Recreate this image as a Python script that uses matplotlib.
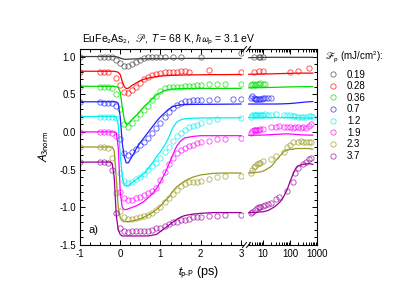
import numpy as np
import matplotlib
matplotlib.use('Agg')
import matplotlib.pyplot as plt
from matplotlib.lines import Line2D
from matplotlib.ticker import MultipleLocator, FixedLocator, FixedFormatter, LogLocator, NullFormatter, FormatStrFormatter

plt.rcParams['font.family'] = ['Liberation Sans', 'DejaVu Sans']
plt.rcParams['mathtext.fontset'] = 'stixsans'
plt.rcParams['axes.unicode_minus'] = False
plt.rcParams['font.size'] = 7

nan = np.nan

fluence = ['0.19', '0.28', '0.36', '0.7', '1.2', '1.9', '2.3', '3.7']
colors = ['#404040', '#ff0000', '#00dd00', '#2020ff', '#00f0f0', '#ff00ff', '#999920', '#990099']

# delays of measured points, linear part (ps)
t_left = [-1.0, -0.5, -0.4, -0.3, -0.2, -0.1, 0.0, 0.1, 0.2, 0.3, 0.4, 0.5, 0.6, 0.7, 0.8, 0.9,
          1.0, 1.1, 1.2, 1.3, 1.4, 1.5, 1.6, 1.7, 1.8, 1.9, 2.0, 2.2, 2.4, 2.6, 2.8, 3.0]
# delays of measured points, log part (ps)
t_right = [3.5, 4, 4.5, 5, 5.5, 6, 7, 8, 9, 10, 12, 15, 20, 30, 40, 60, 80, 100, 130, 160,
           200, 250, 300, 400, 500, 600, 700]
# delays of the fit curves
tf_left = [-1.0, -0.3, -0.25, -0.2, -0.15, -0.1, -0.05, 0.0, 0.05, 0.1, 0.15, 0.2, 0.3, 0.4, 0.5,
           0.6, 0.7, 0.8, 0.9, 1.0, 1.1, 1.2, 1.3, 1.4, 1.5, 1.6, 1.8, 2.0, 2.3, 2.6, 3.0]
tf_right = [3, 5, 8, 10, 13, 16, 20, 25, 30, 40, 50, 60, 80, 100, 130, 160, 200, 300, 500, 700]

# measured, linear part
d019 = [1.0, 1.0, 1.0, 1.0, 0.99, 0.95, 0.91, 0.88, 0.87, 0.90, 0.93, 0.96, 0.98, 0.99, 1.0, 1.0,
        1.0, 1.0, nan, 1.0, nan, 1.0, nan, nan, nan, nan, 0.99, nan, nan, nan, nan, 1.05]
d028 = [0.8, 0.8, 0.8, 0.8, nan, 0.72, 0.62, 0.53, 0.52, 0.55, 0.6, 0.65, 0.7, 0.73, 0.76, 0.77,
        0.78, 0.79, 0.8, 0.8, 0.8, 0.81, 0.81, 0.8, nan, nan, nan, 0.82, nan, nan, nan, 0.8]
d036 = [0.6, 0.6, 0.6, 0.6, 0.58, 0.5, 0.3, 0.1, 0.06, 0.12, 0.19, 0.24, 0.29, 0.34, 0.42, 0.48,
        0.54, 0.58, 0.59, 0.6, 0.6, 0.6, 0.61, 0.61, 0.61, 0.62, 0.62, 0.63, 0.64, 0.64, nan, 0.64]
d07 = [0.4, 0.4, 0.39, 0.38, 0.38, 0.34, -0.1, -0.28, -0.3, -0.27, -0.22, -0.18, -0.14, -0.08, -0.02, 0.05,
       0.12, 0.2, 0.27, 0.32, 0.36, 0.39, 0.41, 0.41, 0.42, 0.42, 0.42, 0.43, 0.44, nan, 0.44, 0.44]
d12 = [0.2, 0.2, 0.2, 0.2, 0.2, 0.18, -0.55, -0.65, -0.68, -0.67, -0.63, -0.6, -0.56, -0.5, -0.45, -0.41,
       -0.34, -0.27, -0.2, -0.12, -0.06, -0.02, 0.03, 0.06, 0.075, 0.09, 0.12, 0.15, 0.17, nan, nan, 0.18]
d19 = [0.0, 0.0, 0.0, 0.0, -0.01, -0.05, -0.8, -0.88, -0.9, -0.9, -0.88, -0.86, -0.84, -0.81, -0.78, -0.74,
       -0.64, -0.53, -0.43, -0.34, -0.28, -0.24, -0.21, -0.19, -0.17, -0.15, -0.14, -0.12, -0.1, -0.1, nan, -0.08]
d23 = [-0.2, -0.2, -0.2, -0.21, -0.35, -0.81, -1.05, -1.13, -1.15, -1.15, -1.14, -1.13, -1.12, -1.1, -1.08, -1.04,
       -1.0, -0.93, -0.87, -0.82, -0.77, -0.72, -0.69, -0.67, -0.66, -0.66, -0.65, -0.63, -0.6, -0.59, nan, -0.59]
d37 = [-0.4, -0.4, -0.4, -0.41, -0.5, -1.08, -1.27, -1.32, -1.33, -1.32, -1.32, -1.32, -1.31, -1.31, -1.3, -1.28,
       -1.27, -1.25, -1.22, -1.2, -1.19, -1.17, -1.17, -1.15, -1.13, -1.13, -1.13, -1.12, -1.11, -1.1, nan, -1.1]

# measured, log part
r019 = [nan, nan, 1.0, nan, nan, nan, 1.0, 1.0, nan, 1.0, nan, nan, nan, nan, nan, nan, nan, nan, nan, nan,
        nan, nan, nan, nan, nan, nan, nan]
r028 = [nan, nan, 0.8, nan, nan, nan, 0.81, nan, nan, 0.81, nan, nan, nan, nan, nan, nan, nan, 0.8, nan, nan,
        0.81, nan, nan, nan, 0.85, nan, nan]
r036 = [0.62, 0.63, 0.63, 0.62, nan, 0.64, 0.64, 0.65, nan, 0.63, 0.63, nan, nan, nan, nan, nan, nan, nan, nan, nan,
        nan, nan, nan, nan, nan, nan, nan]
r07 = [0.45, 0.47, 0.45, 0.44, 0.44, 0.44, 0.44, 0.44, 0.44, 0.45, 0.45, 0.45, 0.45, nan, nan, nan, nan, nan, nan, nan,
       nan, nan, nan, nan, nan, nan, nan]
r12 = [0.2, 0.22, 0.23, 0.23, 0.23, 0.23, 0.23, 0.23, 0.23, 0.23, 0.24, 0.23, 0.23, 0.24, nan, 0.22, 0.23, 0.22, 0.21, 0.21,
       0.2, 0.2, 0.2, 0.2, 0.21, 0.21, 0.2]
r19 = [-0.01, 0.01, 0.02, 0.03, 0.03, 0.03, 0.03, 0.04, nan, 0.04, nan, nan, 0.07, 0.07, 0.075, 0.06, 0.06, 0.06, 0.05, 0.06,
       0.06, 0.05, 0.06, 0.05, 0.08, 0.1, nan]
r23 = [-0.545, -0.5, -0.47, -0.45, nan, -0.42, -0.41, -0.41, nan, -0.39, nan, nan, -0.36, -0.32, nan, -0.26, -0.2, -0.17, -0.14, nan,
       -0.13, -0.12, -0.13, -0.13, -0.13, -0.14, nan]
r37 = [-1.07, -1.06, nan, -1.04, nan, -1.01, -1.0, -0.99, nan, -0.98, -0.97, -0.96, -0.94, -0.89, -0.86, nan, -0.79, nan, -0.66, -0.54,
       -0.48, nan, -0.43, -0.4, -0.36, -0.34, nan]

# fits, linear part
f019 = [1.0, 1.0, 1.0, 1.0, 1.0, 0.998, 0.99, 0.98, 0.97, 0.965, 0.963, 0.965, 0.968, 0.97, 0.97, 0.971,
        0.972, 0.972, 0.973, 0.973, 0.973, 0.974, 0.974, 0.974, 0.974, 0.975, 0.975, 0.975, 0.975, 0.975, 0.975]
f028 = [0.805, 0.805, 0.805, 0.805, 0.804, 0.8, 0.79, 0.76, 0.67, 0.6, 0.575, 0.58, 0.62, 0.65, 0.68, 0.7,
        0.715, 0.725, 0.735, 0.74, 0.745, 0.748, 0.75, 0.752, 0.754, 0.755, 0.757, 0.758, 0.76, 0.76, 0.762]
f036 = [0.605, 0.605, 0.605, 0.605, 0.604, 0.6, 0.59, 0.53, 0.33, 0.16, 0.1, 0.11, 0.17, 0.22, 0.28, 0.34,
        0.39, 0.44, 0.49, 0.52, 0.55, 0.56, 0.57, 0.572, 0.575, 0.575, 0.576, 0.577, 0.578, 0.578, 0.578]
f07 = [0.4, 0.4, 0.4, 0.4, 0.4, 0.398, 0.38, 0.2, -0.15, -0.33, -0.41, -0.41, -0.32, -0.22, -0.14, -0.07,
       0.0, 0.07, 0.14, 0.2, 0.25, 0.3, 0.335, 0.35, 0.36, 0.362, 0.365, 0.366, 0.367, 0.368, 0.37]
f12 = [0.205, 0.205, 0.205, 0.205, 0.204, 0.2, 0.1, -0.3, -0.6, -0.71, -0.72, -0.71, -0.67, -0.63, -0.59, -0.55,
       -0.48, -0.41, -0.33, -0.26, -0.18, -0.08, 0.05, 0.13, 0.16, 0.175, 0.182, 0.185, 0.186, 0.187, 0.188]
f19 = [0.0, 0.0, 0.0, 0.0, -0.002, -0.01, -0.2, -0.8, -1.0, -1.03, -1.03, -1.02, -1.0, -0.98, -0.95, -0.92,
       -0.87, -0.82, -0.75, -0.66, -0.56, -0.44, -0.31, -0.19, -0.12, -0.08, -0.06, -0.05, -0.05, -0.05, -0.05]
f23 = [-0.2, -0.2, -0.2, -0.2, -0.25, -0.6, -1.0, -1.14, -1.18, -1.19, -1.19, -1.19, -1.18, -1.17, -1.15, -1.13,
       -1.1, -1.07, -1.03, -0.98, -0.92, -0.87, -0.79, -0.73, -0.69, -0.65, -0.6, -0.57, -0.55, -0.545, -0.545]
f37 = [-0.4, -0.4, -0.4, -0.42, -0.6, -1.1, -1.3, -1.36, -1.38, -1.38, -1.38, -1.38, -1.38, -1.38, -1.38, -1.38,
       -1.38, -1.37, -1.36, -1.32, -1.28, -1.24, -1.2, -1.16, -1.13, -1.11, -1.09, -1.08, -1.07, -1.07, -1.07]

# fits, log part
g019 = [0.985, 0.987, 0.988, 0.988, 0.989, 0.989, 0.99, 0.99, 0.99, 0.99, 0.99, 0.99, 0.99, 0.99, 0.99, 0.99, 0.99, 0.99, 0.99, 0.99]
g028 = [0.765, 0.766, 0.767, 0.768, 0.769, 0.77, 0.77, 0.771, 0.772, 0.773, 0.774, 0.775, 0.776, 0.777, 0.778, 0.779, 0.78, 0.78, 0.78, 0.78]
g036 = [0.585, 0.586, 0.587, 0.588, 0.589, 0.59, 0.59, 0.591, 0.592, 0.593, 0.594, 0.595, 0.596, 0.597, 0.598, 0.598, 0.599, 0.6, 0.6, 0.6]
g07 = [0.37, 0.37, 0.37, 0.37, 0.37, 0.37, 0.37, 0.37, 0.37, 0.371, 0.372, 0.373, 0.375, 0.377, 0.38, 0.383, 0.387, 0.393, 0.4, 0.403]
g12 = [0.19, 0.19, 0.19, 0.19, 0.19, 0.19, 0.19, 0.19, 0.19, 0.19, 0.19, 0.19, 0.19, 0.19, 0.19, 0.19, 0.188, 0.186, 0.185, 0.185]
g19 = [-0.045, -0.044, -0.042, -0.041, -0.04, -0.038, -0.036, -0.034, -0.032, -0.03, -0.028, -0.027, -0.026, -0.027, -0.03, -0.033, -0.036, -0.04, -0.042, -0.043]
g23 = [-0.545, -0.54, -0.53, -0.52, -0.5, -0.48, -0.46, -0.42, -0.38, -0.33, -0.29, -0.26, -0.24, -0.23, -0.23, -0.22, -0.22, -0.22, -0.22, -0.23]
g37 = [-1.07, -1.07, -1.06, -1.06, -1.05, -1.04, -1.02, -1.0, -0.98, -0.94, -0.9, -0.85, -0.76, -0.66, -0.56, -0.49, -0.45, -0.43, -0.42, -0.43]

data_left = [d019, d028, d036, d07, d12, d19, d23, d37]
data_right = [r019, r028, r036, r07, r12, r19, r23, r37]
fit_left = [f019, f028, f036, f07, f12, f19, f23, f37]
fit_right = [g019, g028, g036, g07, g12, g19, g23, g37]

W, H = 415, 294
fig = plt.figure(figsize=(W / 100, H / 100), dpi=100)
ax1 = fig.add_axes([80 / W, 49 / H, 163 / W, 196 / H])
ax2 = fig.add_axes([248 / W, 49 / H, 69 / W, 196 / H])

mk = dict(marker='o', ls='none', mfc='none', ms=3.8, mew=0.6, alpha=0.75)
for i in range(len(fluence)):
    c = colors[i]
    ax1.plot(tf_left, fit_left[i], color=c, lw=0.9)
    ax1.plot(t_left, data_left[i], mec=c, **mk)
    ax2.plot(tf_right, fit_right[i], color=c, lw=0.9)
    ax2.plot(t_right, data_right[i], mec=c, **mk)

for ax in (ax1, ax2):
    ax.set_ylim(-1.5, 1.1)
    ax.yaxis.set_major_locator(MultipleLocator(0.5))
    ax.yaxis.set_minor_locator(MultipleLocator(0.1))
    for s in ax.spines.values():
        s.set_linewidth(0.8)
    ax.tick_params(which='both', direction='in', top=True, labelsize=7, width=0.7, pad=3)
    ax.tick_params(which='major', length=3.5)
    ax.tick_params(which='minor', length=2)

ax1.set_xlim(-1, 3.05)
ax1.xaxis.set_major_locator(FixedLocator([-1, 0, 1, 2, 3]))
ax1.xaxis.set_minor_locator(MultipleLocator(0.25))
ax1.yaxis.set_major_formatter(FormatStrFormatter('%.1f'))
ax1.spines['right'].set_visible(False)
ax1.tick_params(which='both', right=False)

ax2.set_xscale('log')
ax2.set_xlim(2.8, 1000)
ax2.xaxis.set_major_locator(FixedLocator([10, 100, 1000]))
ax2.xaxis.set_major_formatter(FixedFormatter(['10', '100', '1000']))
ax2.xaxis.set_minor_locator(LogLocator(subs=np.arange(2, 10)))
ax2.xaxis.set_minor_formatter(NullFormatter())
ax2.spines['left'].set_visible(False)
ax2.tick_params(which='both', left=False, right=True, labelleft=False)

# axis break marks
for yb in (245, 49):
    for xb in (244.5, 248.5):
        fig.add_artist(Line2D([(xb - 2) / W, (xb + 2) / W], [1 - (yb + 2.5) / H, 1 - (yb - 2.5) / H],
                              transform=fig.transFigure, color='k', lw=0.7))

ax1.set_ylabel(r'$A_\mathrm{3norm}$', fontsize=9)
ax1.yaxis.set_label_coords(-0.18, 0.5)
fig.text(198 / W, 1 - 273 / H, r'$t_\text{p-P}$ (ps)', fontsize=9, ha='center', va='center')
fig.text(82 / W, 1 - 40 / H, r'EuFe$_2$As$_2$,  $\mathscr{P}$, $T$ = 68 K, $\hbar\omega_\mathrm{p}$ = 3.1 eV',
         fontsize=7.5, ha='left', va='center')
ax1.text(0.05, 0.075, 'a)', transform=ax1.transAxes, fontsize=8, va='center')

handles = [Line2D([], [], marker='o', ls='none', mfc='none', mec=c, ms=3.8, mew=0.6, alpha=0.75) for c in colors]
fig.text(325 / W, 1 - 56.7 / H, r'$\mathscr{F}_\mathrm{p}$ (mJ/cm$^2$):', fontsize=7, ha='left', va='center')
fig.legend(handles, fluence, loc='upper left', bbox_to_anchor=(328 / W, 1 - 69.5 / H), frameon=False,
           fontsize=7, handlelength=1.0, handletextpad=0.96, labelspacing=0.17, borderpad=0, borderaxespad=0)

fig.savefig('out.png', dpi=100)
